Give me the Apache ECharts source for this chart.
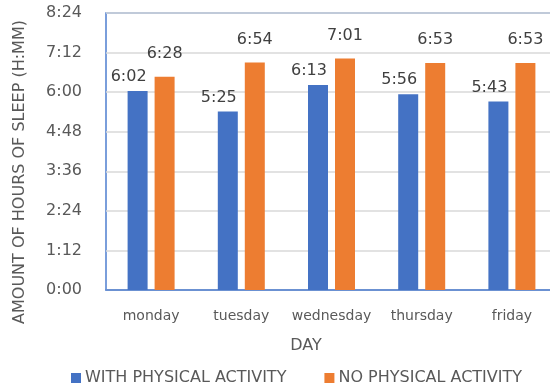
<!DOCTYPE html>
<html>
<head>
<meta charset="utf-8">
<script src="https://cdn.jsdelivr.net/npm/echarts@6/dist/echarts.min.js"></script>
<style>
  html, body { margin: 0; padding: 0; background: #fff; }
  #chart { width: 550px; height: 389px; }
</style>
</head>
<body>
<div id="chart"></div>
<script>
// Average sleep per weekday, in minutes
const days = ['monday', 'tuesday', 'wednesday', 'thursday', 'friday'];
const withActivity = [362, 325, 373, 356, 343];
const noActivity = [388, 414, 421, 413, 413];
const seriesNames = ['WITH PHYSICAL ACTIVITY', 'NO PHYSICAL ACTIVITY'];

const FONT = 'DejaVu Sans';
const TEXT = '#595959';

function hmm(mins) {
  const h = Math.floor(mins / 60);
  const m = Math.round(mins - h * 60);
  return h + ':' + (m < 10 ? '0' : '') + m;
}

const chart = echarts.init(document.getElementById('chart'));
chart.setOption({
  animation: false,
  textStyle: { fontFamily: FONT },
  grid: {
    left: 106, top: 13, width: 451, height: 277,
    outerBoundsMode: 'none',
    show: true, borderColor: '#4F7FD0', borderWidth: 1.5,
    containLabel: false
  },
  legend: {
    left: 66, top: 365,
    itemWidth: 10, itemHeight: 10, itemGap: 38,
    icon: 'rect',
    textStyle: { fontFamily: FONT, fontSize: 16, color: TEXT, padding: [0, 0, 0, -1] },
    data: seriesNames
  },
  xAxis: {
    type: 'category',
    data: days,
    axisLine: { show: true, lineStyle: { color: '#4F7FD0', width: 1.5 } },
    axisTick: { show: false },
    axisLabel: { fontFamily: FONT, fontSize: 14, color: TEXT, margin: 19, interval: 0 }
  },
  yAxis: {
    type: 'value',
    min: 0, max: 504, interval: 72,
    axisLine: { show: false },
    axisTick: { show: false },
    splitLine: { lineStyle: { color: '#D9D9D9', width: 1.5 } },
    axisLabel: { fontFamily: FONT, fontSize: 16, color: TEXT, margin: 24, formatter: hmm }
  },
  graphic: [
    {
      type: 'text', x: 20, y: 172, rotation: Math.PI / 2,
      style: {
        text: 'AMOUNT OF HOURS OF SLEEP (H:MM)', fontFamily: FONT, fontSize: 16,
        fill: TEXT, textAlign: 'center', textVerticalAlign: 'middle'
      }
    },
    {
      type: 'text', x: 306, y: 346,
      style: {
        text: 'DAY', fontFamily: FONT, fontSize: 16,
        fill: TEXT, textAlign: 'center', textVerticalAlign: 'middle'
      }
    }
  ],
  series: [
    {
      name: seriesNames[0], type: 'bar', data: withActivity,
      barWidth: 20, barGap: '35%',
      itemStyle: { color: '#4472C4' },
      label: {
        show: true, position: 'top', distance: 6, offset: [-9, 0],
        fontFamily: FONT, fontSize: 16, color: '#404040',
        formatter: p => hmm(p.value)
      }
    },
    {
      name: seriesNames[1], type: 'bar', data: noActivity,
      barWidth: 20,
      itemStyle: { color: '#ED7D31' },
      label: {
        show: true, position: 'top', distance: 15,
        fontFamily: FONT, fontSize: 16, color: '#404040',
        formatter: p => hmm(p.value)
      }
    }
  ]
});
</script>
</body>
</html>
